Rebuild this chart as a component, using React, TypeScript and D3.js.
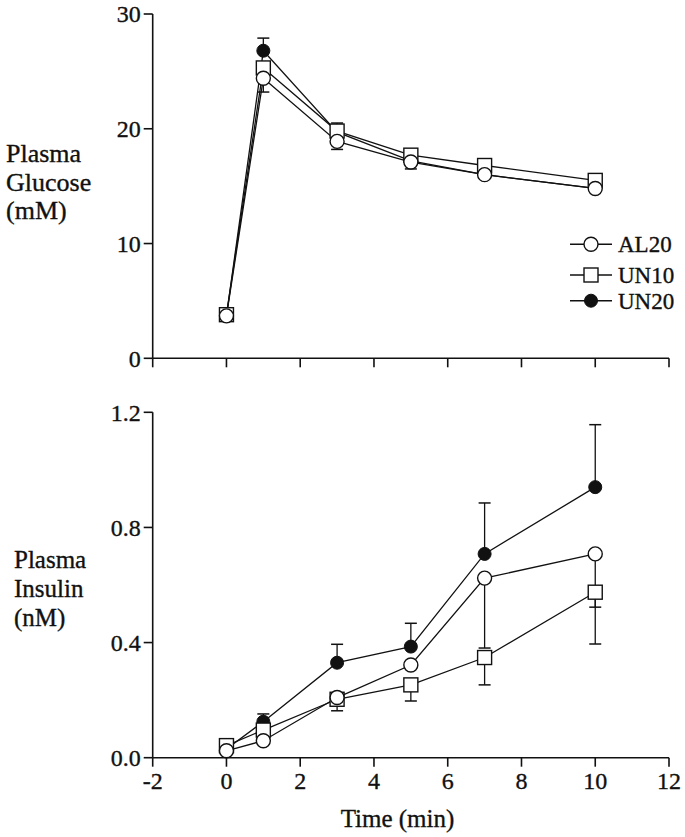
import React from "react";
import * as d3 from "d3";

const times = [0, 1, 3, 5, 7, 10];
const seriesNames = ["AL20", "UN10", "UN20"];

const glucoseAL20 = [3.7, 24.4, 18.9, 17.1, 16.0, 14.8];
const glucoseUN10 = [3.8, 25.3, 19.8, 17.7, 16.8, 15.5];
const glucoseUN20 = [3.7, 26.8, 19.7, 17.2, 16.0, 14.8];
// error bar extent (signed: + up, - down), 0 = hidden
const glucoseErrAL20 = [0, -1.2, -0.7, -0.6, -0.3, -0.2];
const glucoseErrUN10 = [0, 0, 0.7, 0.5, 0.4, 0.2];
const glucoseErrUN20 = [0, 1.1, 0, 0, 0, 0];

const insulinAL20 = [0.024, 0.059, 0.209, 0.322, 0.624, 0.708];
const insulinUN10 = [0.042, 0.096, 0.203, 0.253, 0.348, 0.575];
const insulinUN20 = [0.03, 0.125, 0.33, 0.386, 0.708, 0.94];
const insulinErrAL20 = [0, 0, 0, 0, -0.243, -0.185];
const insulinErrUN10 = [0, 0, -0.04, -0.056, -0.095, -0.18];
const insulinErrUN20 = [0, 0.027, 0.064, 0.081, 0.177, 0.217];

const xTicks = [-2, 0, 2, 4, 6, 8, 10, 12];
const glucoseTicks = [0, 10, 20, 30];
const insulinTicks = [0, 0.4, 0.8, 1.2];

const FONT = "'Liberation Serif', 'Times New Roman', serif";
const INK = "#111";
const TXT = { fontFamily: FONT, fill: INK, stroke: INK, strokeWidth: 0.35 } as const;

type Marker = "circle" | "square" | "dot";
const markers: Marker[] = ["circle", "square", "dot"];

function MarkerShape({ type, x, y }: { type: Marker; x: number; y: number }) {
  if (type === "circle")
    return <circle cx={x} cy={y} r={7} fill="#fff" stroke={INK} strokeWidth={1.4} />;
  if (type === "square")
    return <rect x={x - 7} y={y - 7} width={14} height={14} fill="#fff" stroke={INK} strokeWidth={1.4} />;
  return <circle cx={x} cy={y} r={6.5} fill={INK} stroke={INK} strokeWidth={1} />;
}

function Panel({
  yScale,
  xScale,
  series,
  errs,
  yTicks,
  yFmt,
  showXLabels,
}: {
  yScale: d3.ScaleLinear<number, number>;
  xScale: d3.ScaleLinear<number, number>;
  series: number[][];
  errs: number[][];
  yTicks: number[];
  yFmt: (v: number) => string;
  showXLabels: boolean;
}) {
  const [x0, x1] = xScale.range();
  const [yb, yt] = yScale.range();
  const line = d3
    .line<number>()
    .x((_, i) => xScale(times[i]))
    .y((d) => yScale(d));
  const order = [2, 1, 0];
  return (
    <g>
      <line x1={x0} x2={x0} y1={yb} y2={yt} stroke={INK} strokeWidth={1.6} />
      <line x1={x0} x2={x1} y1={yb} y2={yb} stroke={INK} strokeWidth={1.6} />
      {yTicks.map((t) => (
        <g key={t}>
          <line x1={x0 - 9} x2={x0} y1={yScale(t)} y2={yScale(t)} stroke={INK} strokeWidth={1.6} />
          <text x={x0 - 12} y={yScale(t)} dy="0.35em" textAnchor="end" fontSize={24} {...TXT}>
            {yFmt(t)}
          </text>
        </g>
      ))}
      {xTicks.map((t) => (
        <g key={t}>
          <line x1={xScale(t)} x2={xScale(t)} y1={yb} y2={yb + 9} stroke={INK} strokeWidth={1.6} />
          {showXLabels && (
            <text x={xScale(t)} y={yb + 31.5} textAnchor="middle" fontSize={24} {...TXT}>
              {String(t)}
            </text>
          )}
        </g>
      ))}
      {order.map((s) =>
        series[s].map((v, i) => {
          const e = errs[s][i];
          if (!e) return null;
          const cx = xScale(times[i]);
          const y0 = yScale(v);
          const y1 = yScale(v + e);
          return (
            <g key={`e${s}-${i}`}>
              <line x1={cx} x2={cx} y1={y0} y2={y1} stroke={INK} strokeWidth={1.3} />
              <line x1={cx - 6} x2={cx + 6} y1={y1} y2={y1} stroke={INK} strokeWidth={1.5} />
            </g>
          );
        })
      )}
      {order.map((s) => (
        <path key={`l${s}`} d={line(series[s]) || ""} fill="none" stroke={INK} strokeWidth={1.3} />
      ))}
      {order.map((s) =>
        series[s].map((v, i) => (
          <MarkerShape key={`m${s}-${i}`} type={markers[s]} x={xScale(times[i])} y={yScale(v)} />
        ))
      )}
    </g>
  );
}

export default function App() {
  const xScale = d3.scaleLinear().domain([-2, 12]).range([152.7, 669]);
  const yTop = d3.scaleLinear().domain([0, 30]).range([358.3, 14]);
  const yBot = d3.scaleLinear().domain([0, 1.2]).range([757.7, 412.3]);

  const legendY = [244.3, 275, 300.7];

  return (
    <svg
      width={685}
      height={837}
      style={{ position: "absolute", left: 0, top: 0, background: "#fff" }}
    >
      <rect width={685} height={837} fill="#fff" />
      <Panel
        xScale={xScale}
        yScale={yTop}
        series={[glucoseAL20, glucoseUN10, glucoseUN20]}
        errs={[glucoseErrAL20, glucoseErrUN10, glucoseErrUN20]}
        yTicks={glucoseTicks}
        yFmt={(v) => String(v)}
        showXLabels={false}
      />
      <Panel
        xScale={xScale}
        yScale={yBot}
        series={[insulinAL20, insulinUN10, insulinUN20]}
        errs={[insulinErrAL20, insulinErrUN10, insulinErrUN20]}
        yTicks={insulinTicks}
        yFmt={(v) => v.toFixed(1)}
        showXLabels={true}
      />
      {seriesNames.map((n, i) => (
        <g key={n}>
          <line x1={570} x2={612} y1={legendY[i]} y2={legendY[i]} stroke={INK} strokeWidth={1.4} />
          <MarkerShape type={markers[i]} x={591} y={legendY[i]} />
          <text x={618} y={legendY[i]} dy="0.35em" fontSize={23} {...TXT}>
            {n}
          </text>
        </g>
      ))}
      <text fontSize={26} {...TXT}>
        <tspan x={6} y={161.5}>Plasma</tspan>
        <tspan x={6} y={190.5}>Glucose</tspan>
        <tspan x={6} y={219}>(mM)</tspan>
      </text>
      <text fontSize={25} {...TXT}>
        <tspan x={14} y={568}>Plasma</tspan>
        <tspan x={14} y={597}>Insulin</tspan>
        <tspan x={14} y={625.5}>(nM)</tspan>
      </text>
      <text x={397.5} y={826.5} textAnchor="middle" fontSize={25} {...TXT}>
        Time (min)
      </text>
    </svg>
  );
}
